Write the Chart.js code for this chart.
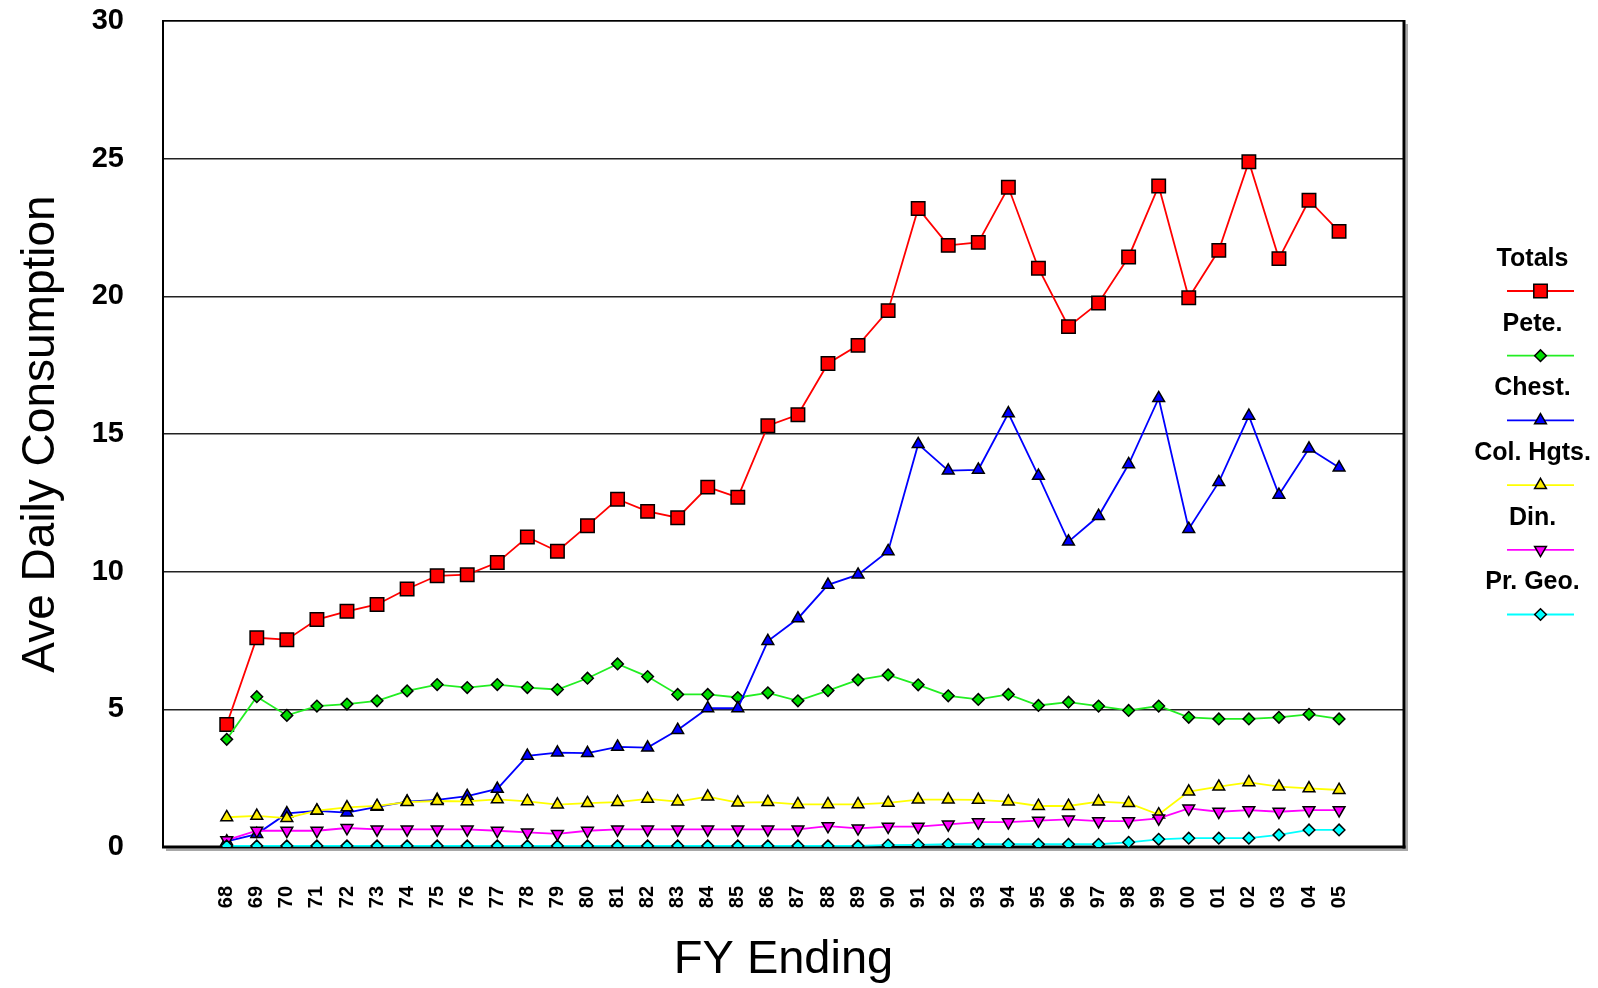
<!DOCTYPE html>
<html>
<head>
<meta charset="utf-8">
<script src="https://cdn.jsdelivr.net/npm/chart.js@4.4.1/dist/chart.umd.min.js"></script>
<style>
  html, body { margin: 0; padding: 0; background: #fff; overflow: hidden; }
  canvas { display: block; }
</style>
</head>
<body>
<canvas id="graph1" width="1598" height="988"></canvas>
<script>
let years = ['68', '69', '70', '71', '72', '73', '74', '75', '76', '77',
             '78', '79', '80', '81', '82', '83', '84', '85', '86', '87',
             '88', '89', '90', '91', '92', '93', '94', '95', '96', '97',
             '98', '99', '00', '01', '02', '03', '04', '05'];

let totals = [4.45, 7.6, 7.53, 8.26, 8.56, 8.81, 9.37, 9.85, 9.89, 10.33,
              11.26, 10.74, 11.67, 12.63, 12.19, 11.96, 13.07, 12.7, 15.3, 15.7,
              17.56, 18.22, 19.48, 23.19, 21.85, 21.96, 23.96, 21.02, 18.9, 19.76,
              21.43, 24.01, 19.95, 21.67, 24.89, 21.37, 23.49, 22.36];

let pete = [3.91, 5.46, 4.78, 5.12, 5.19, 5.31, 5.67, 5.9, 5.79, 5.9,
            5.79, 5.72, 6.13, 6.65, 6.19, 5.54, 5.54, 5.43, 5.6, 5.31,
            5.68, 6.07, 6.25, 5.89, 5.49, 5.36, 5.54, 5.14, 5.26, 5.12,
            4.96, 5.12, 4.71, 4.65, 4.65, 4.71, 4.82, 4.65];

let chest = [0.2, 0.47, 1.22, 1.31, 1.25, 1.46, 1.65, 1.71, 1.85, 2.11,
             3.31, 3.43, 3.41, 3.64, 3.61, 4.25, 5.04, 5.04, 7.48, 8.3,
             9.52, 9.89, 10.74, 14.63, 13.67, 13.7, 15.75, 13.48, 11.09, 12.02,
             13.9, 16.3, 11.55, 13.25, 15.66, 12.79, 14.47, 13.78];

let colHgts = [1.08, 1.13, 1.05, 1.32, 1.44, 1.49, 1.63, 1.67, 1.66, 1.73,
               1.66, 1.54, 1.59, 1.63, 1.75, 1.65, 1.83, 1.61, 1.63, 1.55,
               1.55, 1.55, 1.6, 1.72, 1.72, 1.71, 1.65, 1.49, 1.49, 1.65,
               1.59, 1.18, 2.01, 2.19, 2.35, 2.19, 2.13, 2.07];

let din = [0.25, 0.59, 0.59, 0.59, 0.69, 0.64, 0.64, 0.64, 0.64, 0.59,
           0.53, 0.48, 0.59, 0.64, 0.64, 0.64, 0.64, 0.64, 0.64, 0.64,
           0.76, 0.68, 0.74, 0.74, 0.82, 0.9, 0.9, 0.96, 1.0, 0.94,
           0.94, 1.04, 1.4, 1.28, 1.34, 1.28, 1.34, 1.34];

let prGeo = [0.04, 0.04, 0.04, 0.04, 0.04, 0.04, 0.04, 0.04, 0.04, 0.04,
             0.04, 0.04, 0.04, 0.04, 0.04, 0.04, 0.04, 0.04, 0.04, 0.04,
             0.04, 0.04, 0.07, 0.08, 0.1, 0.1, 0.1, 0.1, 0.1, 0.1,
             0.17, 0.28, 0.32, 0.32, 0.32, 0.44, 0.62, 0.62];

let yTicks = [0, 5, 10, 15, 20, 25, 30];

const family = '"Liberation Sans", Arial, Helvetica, sans-serif';
const ctx = document.getElementById('graph1').getContext('2d');

function pts(list) {
    return list.map((v, i) => ({x: i, y: v}));
}

// plot frame with the little grey shadow on the right and bottom
const frame = {
    id: 'frame',
    beforeDatasetsDraw(chart) {
        const c = chart.ctx, a = chart.chartArea;
        c.save();
        c.fillStyle = '#a8a8a8';
        c.fillRect(a.right + 1.5, a.top + 3, 2.5, a.bottom - a.top + 1);
        c.fillRect(a.left + 3, a.bottom + 1.5, a.right - a.left + 1, 2.5);
        c.fillStyle = '#000';
        c.fillRect(a.left - 1, a.top - 1, 2, a.bottom - a.top + 2);
        c.fillRect(a.left - 1, a.top - 1, a.right - a.left + 2, 1.5);
        c.fillRect(a.right - 1.5, a.top - 1, 3, a.bottom - a.top + 2.5);
        c.fillRect(a.left - 1, a.bottom - 1.5, a.right - a.left + 2.5, 3);
        c.restore();
    }
};

// legend on the right: label on top, line sample with marker under it
const sideLegend = {
    id: 'sideLegend',
    afterDraw(chart) {
        const c = chart.ctx;
        const x0 = chart.chartArea.right + 103, x1 = chart.chartArea.right + 170;
        const xm = (x0 + x1) / 2;
        c.save();
        chart.data.datasets.forEach((ds, i) => {
            let ty = 259 + i * 64.7;
            let ly = 291 + i * 64.7;
            c.fillStyle = '#000';
            c.font = 'bold 25px ' + family;
            c.textAlign = 'center';
            c.textBaseline = 'middle';
            c.fillText(ds.label, xm - 8, ty);

            c.strokeStyle = ds.borderColor;
            c.lineWidth = 1.8;
            c.beginPath();
            c.moveTo(x0, ly);
            c.lineTo(x1, ly);
            c.stroke();

            c.fillStyle = ds.pointBackgroundColor;
            c.strokeStyle = '#000';
            c.lineWidth = 1.5;
            Chart.helpers.drawPoint(c, {
                pointStyle: ds.pointStyle,
                rotation: ds.pointRotation || 0,
                radius: ds.pointRadius,
                borderWidth: 1.5
            }, xm, ly);
        });
        c.restore();
    }
};

function series(label, list, line, fill, style, radius, rot, order) {
    return {
        label: label,
        data: pts(list),
        borderColor: line,
        borderWidth: 1.8,
        pointBackgroundColor: fill,
        pointBorderColor: '#000',
        pointBorderWidth: 1.5,
        pointStyle: style,
        pointRadius: radius,
        pointHoverRadius: radius,
        pointRotation: rot,
        tension: 0,
        order: order
    };
}

let myChart = new Chart(ctx, {
    type: 'line',
    data: {
        datasets: [
            series('Totals', totals, '#ff0000', '#ff0000', 'rect', 9.5, 0, 6),
            series('Pete.', pete, '#22ee22', '#00dd00', 'rectRot', 5.8, 0, 5),
            series('Chest.', chest, '#0000ff', '#0000ff', 'triangle', 6.8, 0, 4),
            series('Col. Hgts.', colHgts, '#ffff00', '#ffee00', 'triangle', 6.8, 0, 3),
            series('Din.', din, '#ff00ff', '#ff00ff', 'triangle', 6.8, 180, 2),
            series('Pr. Geo.', prGeo, '#00ffff', '#00ffff', 'rectRot', 5.8, 0, 1)
        ]
    },
    options: {
        responsive: false,
        animation: false,
        devicePixelRatio: 1,
        layout: {
            padding: {top: 21, right: 194, left: 0, bottom: 0}
        },
        plugins: {
            legend: {display: false},
            tooltip: {enabled: false}
        },
        scales: {
            x: {
                type: 'linear',
                min: -2.12,
                max: 39.16,
                afterBuildTicks: axis => {
                    axis.ticks = years.map((y, i) => ({value: i}));
                },
                afterFit: axis => {
                    axis.height = 141;
                    axis.paddingLeft = 0;
                    axis.paddingRight = 0;
                },
                grid: {display: false, drawTicks: false, tickLength: 0},
                border: {display: false},
                ticks: {
                    autoSkip: false,
                    minRotation: 90,
                    maxRotation: 90,
                    padding: 39,
                    color: '#000',
                    font: {family: family, size: 20, weight: 'bold'},
                    callback: v => years[v]
                },
                title: {
                    display: true,
                    text: 'FY Ending',
                    color: '#000',
                    font: {family: family, size: 47},
                    padding: {top: 0, bottom: 0}
                }
            },
            y: {
                min: 0,
                max: 30,
                afterBuildTicks: axis => {
                    axis.ticks = yTicks.map(v => ({value: v}));
                },
                afterFit: axis => {
                    axis.width = 163;
                    axis.paddingTop = 0;
                    axis.paddingBottom = 0;
                },
                grid: {color: '#222', lineWidth: 1.5, drawTicks: false, tickLength: 0},
                border: {display: false},
                ticks: {
                    padding: 39,
                    color: '#000',
                    font: {family: family, size: 29, weight: 'bold'}
                },
                title: {
                    display: true,
                    text: 'Ave Daily Consumption',
                    color: '#000',
                    font: {family: family, size: 46},
                    padding: {top: 14, bottom: 0}
                }
            }
        }
    },
    plugins: [frame, sideLegend]
});
</script>
</body>
</html>
